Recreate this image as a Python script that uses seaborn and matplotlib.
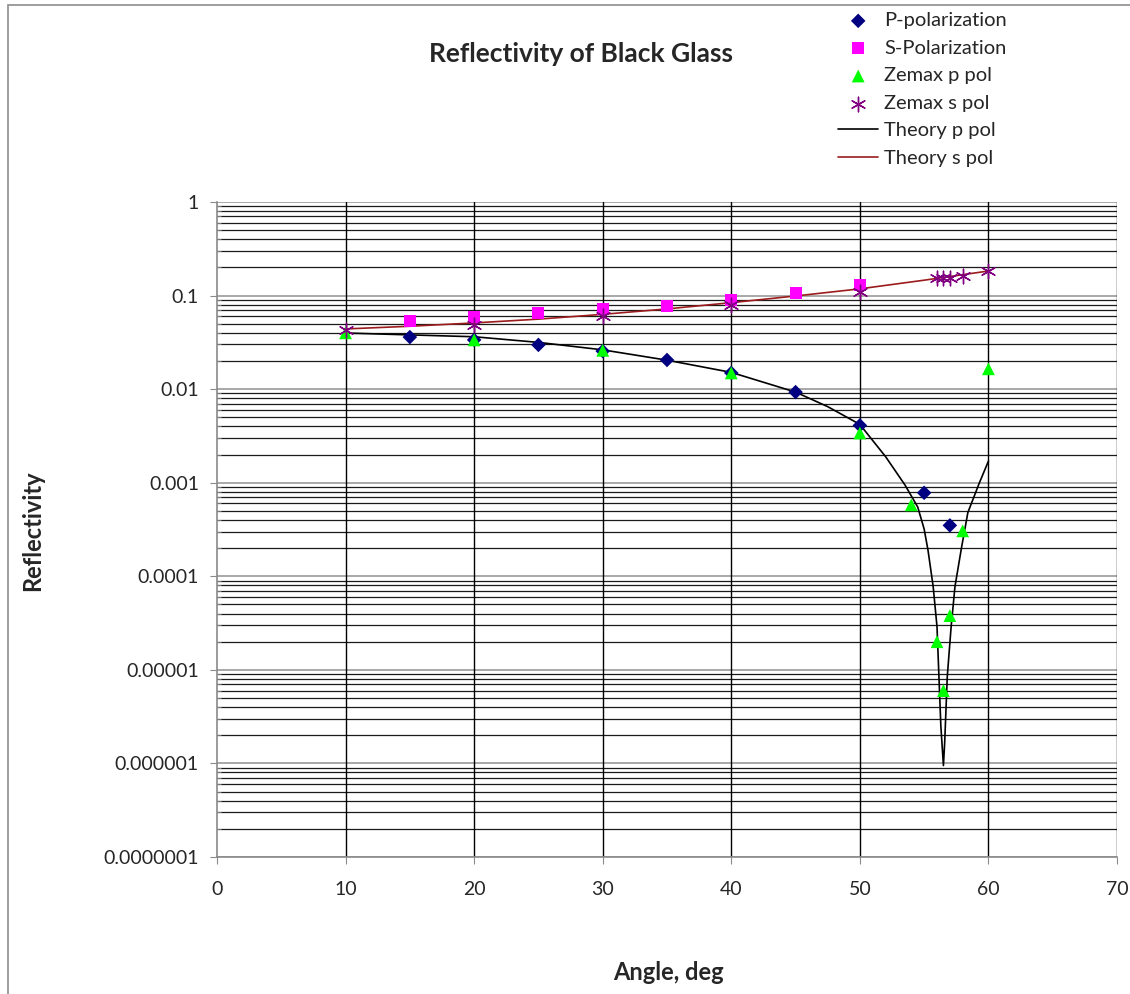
import numpy as np
import pandas as pd
import matplotlib
matplotlib.use("Agg")
import matplotlib.pyplot as plt
import matplotlib.ticker as mticker
from matplotlib.patches import Rectangle
import seaborn as sns

# measured data
p_ang = [15, 20, 25, 30, 35, 40, 45, 50, 55, 57]
p_val = [0.036, 0.0336, 0.0297, 0.0255, 0.0205, 0.0149, 0.0093, 0.0041, 0.00078, 0.00035]

s_ang = [15, 20, 25, 30, 35, 40, 45, 50]
s_val = [0.053, 0.059, 0.065, 0.072, 0.077, 0.090, 0.107, 0.130]

zp_ang = [10, 20, 30, 40, 50, 54, 56, 56.5, 57, 58, 60]
zp_val = [0.040, 0.0336, 0.026, 0.0149, 0.0034, 0.00058, 0.00002, 0.000006, 0.000038, 0.000306, 0.0165]

zs_ang = [10, 20, 30, 40, 50, 56, 56.5, 57, 58, 60]
zs_val = [0.0429, 0.0486, 0.060, 0.079, 0.109, 0.154, 0.154, 0.154, 0.162, 0.183]

# theory curves
tp_ang = [10, 15, 20, 25, 30, 35, 40, 45, 47.5, 50, 52, 53.5, 54.5, 55, 55.3, 55.7,
          56, 56.15, 56.3, 56.5, 56.6, 56.8, 57.1, 57.4, 57.9, 58.4, 59.3, 60]
tp_val = [0.0398, 0.038, 0.0363, 0.0316, 0.0263, 0.0204, 0.0151, 0.0093, 0.0065, 0.0042,
          0.0019, 0.00095, 0.00055, 0.00032, 0.00019, 0.000078, 0.000029, 0.0000085,
          0.0000025, 0.00000095, 0.0000017, 0.0000085, 0.000029, 0.000078, 0.0002,
          0.00048, 0.001, 0.0017]

ts_ang = [10, 15, 20, 25, 30, 35, 40, 45, 50, 55, 60]
ts_val = [0.044, 0.047, 0.051, 0.056, 0.063, 0.072, 0.084, 0.099, 0.118, 0.146, 0.183]

sns.set_style("white")
plt.rcParams['font.family'] = ['Lato', 'DejaVu Sans']

fig = plt.figure(figsize=(11.3, 9.94), dpi=100)
ax = fig.add_axes([217/1130, 1-857/994, 900/1130, 655/994])

sns.lineplot(x=tp_ang, y=tp_val, color="black", lw=1.2, estimator=None, sort=False,
             ax=ax, label="Theory p pol", zorder=3)
sns.lineplot(x=ts_ang, y=ts_val, color="#9b1c1c", lw=1.2, estimator=None, sort=False,
             ax=ax, label="Theory s pol", zorder=3)

sns.scatterplot(x=p_ang, y=p_val, marker="D", s=55, color="#000080", edgecolor="none",
                ax=ax, label="P-polarization", zorder=4)
sns.scatterplot(x=s_ang, y=s_val, marker="s", s=75, color="#ff00ff", edgecolor="none",
                ax=ax, label="S-Polarization", zorder=4)
sns.scatterplot(x=zp_ang, y=zp_val, marker="^", s=85, color="#00ff00", edgecolor="none",
                ax=ax, label="Zemax p pol", zorder=5)
sns.scatterplot(x=zs_ang, y=zs_val, marker=(6, 2, 0), s=110, color="#800080",
                linewidth=1.0, ax=ax, label="Zemax s pol", zorder=6)

ax.set_yscale("log")
ax.set_xlim(0, 70)
ax.set_ylim(1e-7, 1)
ax.set_xticks(range(0, 71, 10))
ax.yaxis.set_major_locator(mticker.LogLocator(base=10, numticks=10))
ax.yaxis.set_minor_locator(mticker.LogLocator(base=10, subs=np.arange(2, 10), numticks=20))
ax.yaxis.set_major_formatter(mticker.FuncFormatter(
    lambda v, pos: "1" if v >= 1 else f"{v:.{int(round(-np.log10(v)))}f}"))
ax.yaxis.set_minor_formatter(mticker.NullFormatter())

for v in range(10, 71, 10):
    ax.axvline(v, color="black", lw=1.0, zorder=1)
ax.grid(True, which="major", axis="y", color="#9a9a9a", lw=1.2, zorder=0)
ax.grid(True, which="minor", axis="y", color="#1a1a1a", lw=0.9, zorder=0)
ax.set_axisbelow(True)

for side in ["top", "right"]:
    ax.spines[side].set_visible(False)
for side in ["left", "bottom"]:
    ax.spines[side].set_color("#8a8a8a")
    ax.spines[side].set_linewidth(1.2)
ax.tick_params(axis="both", which="major", direction="out", length=5, color="#8a8a8a",
               labelsize=14, pad=12, left=True, bottom=True)
ax.tick_params(axis="y", which="minor", direction="in", length=3, color="#8a8a8a", left=True)
ax.tick_params(axis="y", which="major", pad=8)

ax.set_xlabel("")
ax.set_ylabel("")
fig.text(668/1130, 1-972/994, "Angle, deg", fontsize=17, fontweight="bold",
         ha="center", va="center")
fig.text(33/1130, 1-531/994, "Reflectivity", fontsize=17, fontweight="bold",
         ha="center", va="center", rotation=90)
fig.text(581/1130, 1-54/994, "Reflectivity of Black Glass", fontsize=19,
         fontweight="bold", ha="center", va="center")

ax.get_legend().remove()
h, l = ax.get_legend_handles_labels()
order = ["P-polarization", "S-Polarization", "Zemax p pol", "Zemax s pol",
         "Theory p pol", "Theory s pol"]
hd = dict(zip(l, h))
fig.legend([hd[k] for k in order], order, loc="upper left",
           bbox_to_anchor=(830/1130, 1-4/994), frameon=False, fontsize=14.5,
           labelspacing=0.52, handlelength=2.0, handletextpad=0.3, borderaxespad=0)

fig.patches.append(Rectangle((8/1130, -0.02), 1.1, 1-5/994+0.02, transform=fig.transFigure,
                             fill=False, edgecolor="#8c8c8c", lw=1.2))

fig.savefig("out.png", dpi=100)
